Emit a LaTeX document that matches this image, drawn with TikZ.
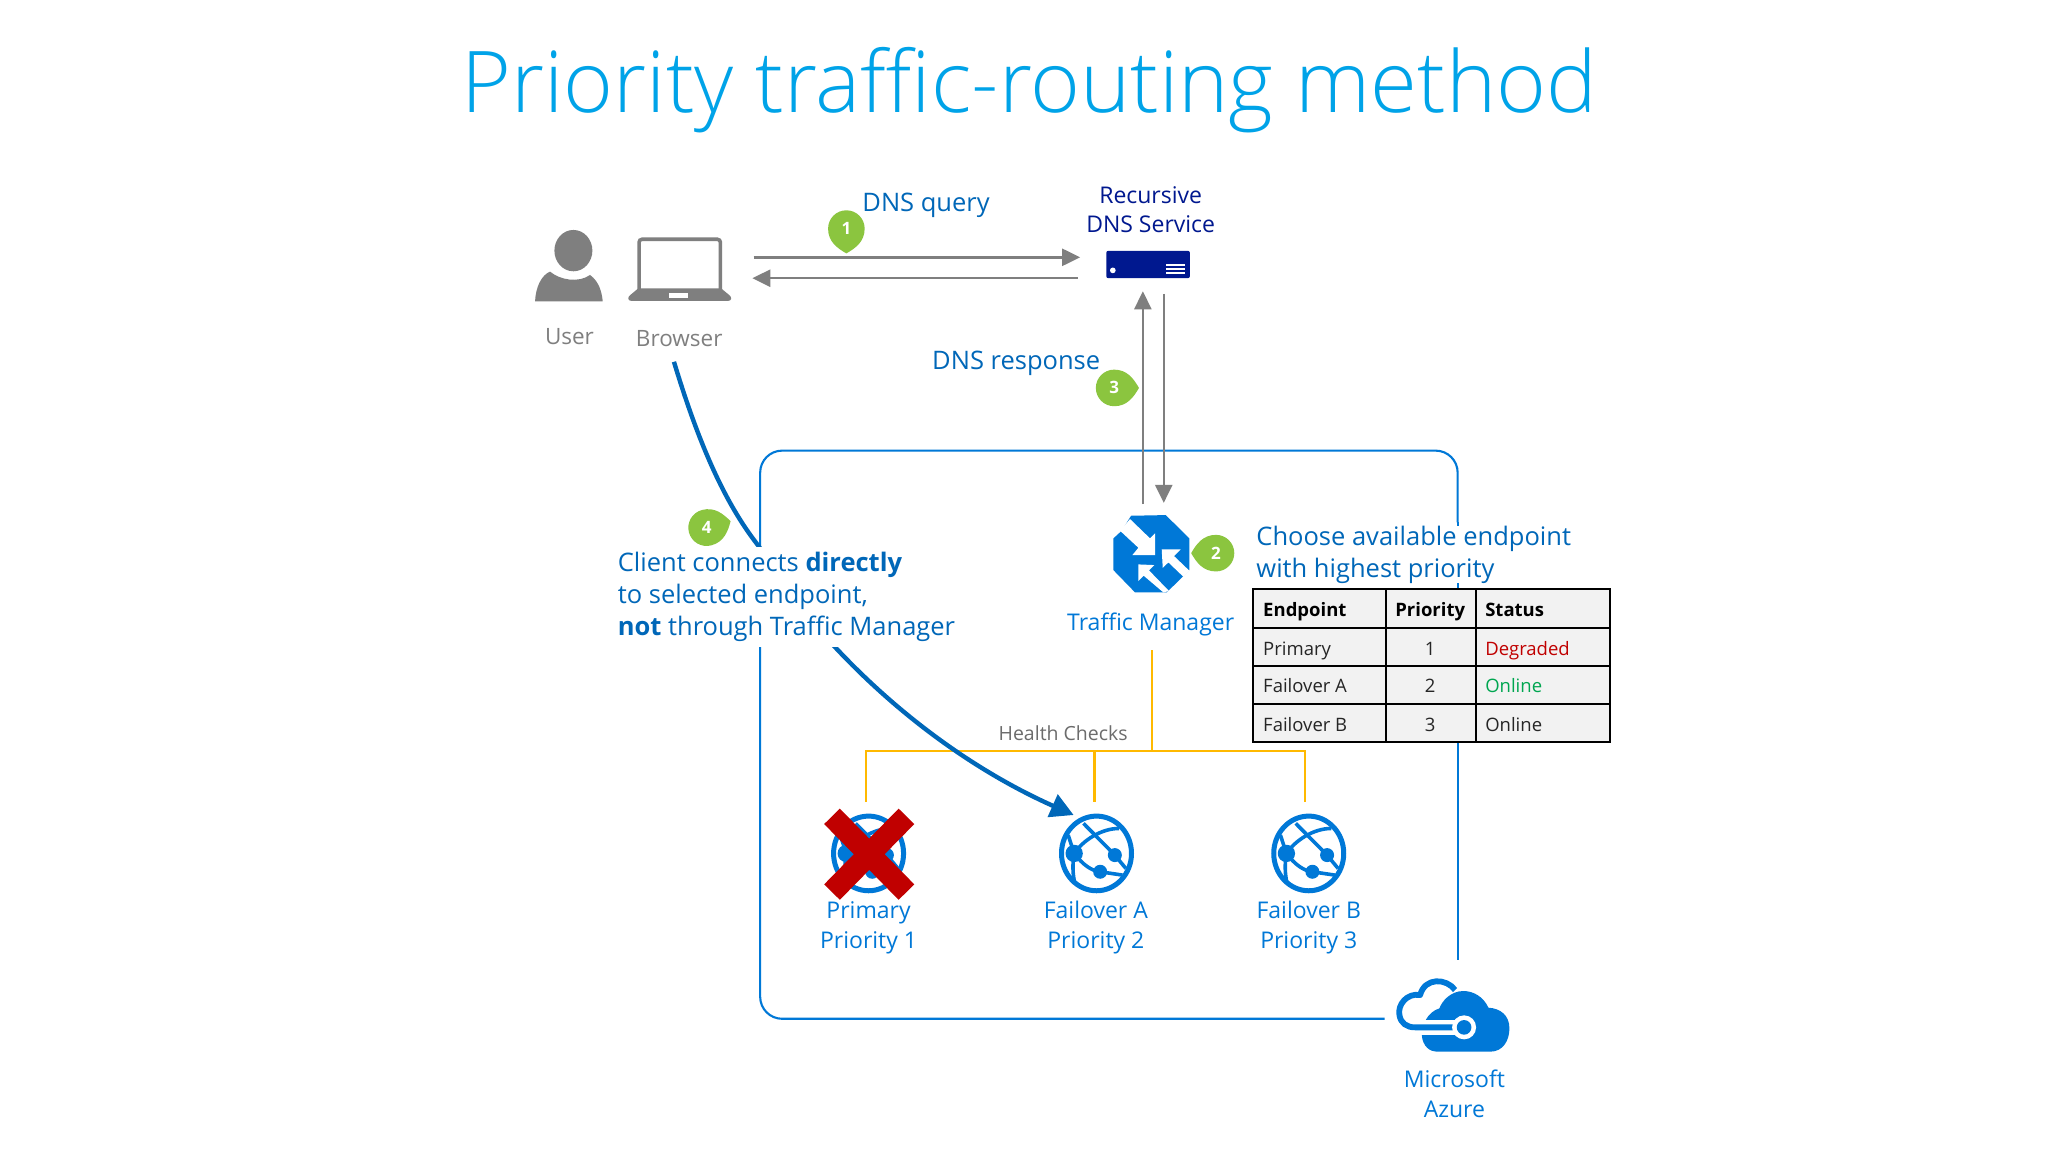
\documentclass[tikz,border=0pt]{standalone}
\usepackage{fontspec}
\setmainfont{Open Sans}
\newfontfamily\titlefont{Open Sans Light}
\usetikzlibrary{arrows.meta,calc}
\definecolor{ttl}{HTML}{00A3E8}
\definecolor{azb}{HTML}{0078D7}
\definecolor{dkb}{HTML}{0067B8}
\definecolor{navy}{HTML}{00188F}
\definecolor{gry}{HTML}{7F7F7F}
\definecolor{pingreen}{HTML}{8BC53F}
\definecolor{yel}{HTML}{FFB900}
\definecolor{redx}{HTML}{C00000}
\definecolor{grn}{HTML}{00A650}
\definecolor{cellg}{HTML}{F2F2F2}
\tikzset{
  blbl/.style={inner sep=0pt,text=azb,align=center,font=\fontsize{23}{30}\selectfont},
  dlbl/.style={inner sep=0pt,text=dkb,font=\fontsize{25.5}{32}\selectfont,align=left},
  glbl/.style={inner sep=0pt,text=gry,font=\fontsize{22.5}{28}\selectfont},
  nlbl/.style={inner sep=0pt,text=navy,align=center,font=\fontsize{23}{29}\selectfont},
  cell/.style={inner sep=0pt,text=black!85,text height=18pt,text depth=4pt,font=\fontsize{18.5}{22}\selectfont},
  hcell/.style={inner sep=0pt,text=black,text height=18pt,text depth=4pt,font=\fontsize{18.5}{22}\selectfont\bfseries},
  grayarrow/.style={draw=gry,line width=2.4pt,-{Triangle[length=18pt,width=17pt]}},
  yline/.style={draw=yel,line width=2.4pt},
  boxline/.style={draw=azb,line width=2.1pt},
  pics/pin/.style 2 args={code={
    \fill[pingreen,rotate=#1] (19,0) .. controls (15,7) and (10,14) .. (0,14) arc[start angle=90,end angle=270,radius=14] .. controls (10,-14) and (15,-7) .. (19,0) -- cycle;
    \node[inner sep=0pt,text=white,font=\fontsize{17}{20}\selectfont\bfseries] at (0,0) {#2};
  }},
  pics/globe/.style={code={
    \begin{scope}[scale=0.2552,azb,line width=3.6pt]
      \draw[line width=5pt] (0,0) ellipse[x radius=105,y radius=112];
      \draw (-39,-90) -- (55,5) -- (88,45);
      \draw (68,-75) .. controls (15,-75) and (-40,-40) .. (-67,0) .. controls (-72,30) and (-72,60) .. (-65,90);
      \draw (-85,-55) -- (-67,0);
      \draw (-67,0) .. controls (-40,35) and (-15,52) .. (11,55) -- (78,65);
      \fill (-67,0) circle[radius=26];
      \fill (55,5) circle[radius=21];
      \fill (11,55) circle[radius=21];
    \end{scope}
  }}
}
\begin{document}
\begin{tikzpicture}[x=1.30612pt,y=-1.30612pt]
\useasboundingbox[fill=white] (0,0) rectangle (1568,882);
% frame
\draw[boxline,rounded corners=22pt] (1116,400) -- (1116,345) -- (582,345) -- (582,780) -- (1060,780);
\draw[boxline] (1116,400) -- (1116,735);
% title
\node[inner sep=0pt,text=ttl,font=\fontsize{85.2}{90}\selectfont\titlefont] (title) at (788,69) {Priority traffic-routing method};
% user
\node[glbl] (user) at (436,258) {User};
\node[glbl] (browser) at (520,259) {Browser};
\begin{scope}[shift={(402,168.4)},scale=0.2552]
\fill[gry] (145,92) ellipse[x radius=57,y radius=62];
\fill[gry] (30,244) .. controls (32,200) and (50,165) .. (75,155) .. controls (105,180) and (160,190) .. (195,165) .. controls (222,185) and (230,215) .. (233,244) -- cycle;
\draw[gry,line width=3.6pt,rounded corners=3pt] (342,210) -- (342,58) -- (586,58) -- (586,210);
\fill[gry] (340,205) -- (588,205) -- (612,225) .. controls (622,232) and (620,243) .. (608,243) -- (320,243) .. controls (308,243) and (306,232) .. (316,225) -- cycle;
\fill[white] (433,220) rectangle (488,235);
\end{scope}
% server
\node[fill=navy,rounded corners=2pt,minimum width=83.6pt,minimum height=27.4pt,inner sep=0pt] (server) at (879,202.5) {};
\fill[white] (852,207) circle[radius=2.2];
\draw[white,line width=1.4pt] (893,203) -- (907,203) (893,206) -- (907,206) (893,209) -- (907,209);
\node[nlbl] (rec) at (881,160.5) {Recursive\\DNS Service};
% coordinates for connectors
\coordinate (qs) at (577,197);
\coordinate (qe) at (827,197);
\coordinate (rs) at (825,213);
\coordinate (re) at (576,213);
\coordinate (us) at (875,386);
\coordinate (ue) at (875,223);
\coordinate (ds) at (891,225);
\coordinate (de) at (891,385);
\draw[grayarrow] (qs) -- (qe);
\draw[grayarrow] (rs) -- (re);
\draw[grayarrow] (us) -- (ue);
\draw[grayarrow] (ds) -- (de);
\node[dlbl] (dq) at (709,157) {DNS query};
\node[dlbl] (dr) at (778,278) {DNS response};
% yellow
\coordinate (ys) at (882,498);
\coordinate (yj) at (882,575);
\coordinate (ya) at (663,575);
\coordinate (yb) at (838,575);
\coordinate (yc) at (999,575);
\coordinate (ea) at (663,614);
\coordinate (eb) at (838,614);
\coordinate (ec) at (999,614);
\draw[yline] (ys) -- (yj);
\draw[yline] (ea) -- (ya) -- (yc) -- (ec);
\draw[yline] (yb) -- (eb);
\node[inner sep=0pt,text=gry!85!black,font=\fontsize{19.5}{25}\selectfont] (hc) at (814,561) {Health Checks};
% client connector
\coordinate (cs) at (516,277);
\coordinate (ce) at (822,624);
\draw[draw=dkb,line width=4.4pt,-{Triangle[length=23pt,width=24pt]}] (cs) .. controls (535,340) and (555,385) .. (580,417) .. controls (600,445) and (618,472) .. (638,494) .. controls (690,550) and (750,592) .. (ce);
\node[dlbl,fill=white,anchor=west,outer sep=0pt,inner xsep=4pt,inner ysep=5pt] (client) at (470,457) {Client connects \textbf{directly}\\to selected endpoint,\\\textbf{not} through Traffic Manager};
% pins
\pic (p1) at (648,175) {pin={-90}{1}};
\pic (p3) at (853,297) {pin={0}{3}};
\pic (p4) at (541,404) {pin={15}{4}};
\pic (p2) at (931,423.5) {pin={180}{2}};
% traffic manager
\begin{scope}[shift={(838.4,386.7)},scale=0.2552]
\fill[azb] (108,32) -- (212,30) -- (283,100) -- (283,195) -- (215,262) -- (120,262) -- (55,195) -- (55,100) -- (80,77) -- cycle;
\fill[white] (75,77) -- (105,42) -- (165,100) -- (180,85) -- (180,150) -- (112,150) -- (130,128) -- cycle;
\fill[white] (200,133) -- (257,133) -- (237,153) -- (283,197) -- (265,215) -- (220,172) -- (203,188) -- cycle;
\fill[white] (130,178) -- (178,180) -- (162,196) -- (222,258) -- (205,262) -- (146,212) -- (130,228) -- cycle;
\end{scope}
\node[blbl] (tm) at (881,478) {Traffic Manager};
\node[dlbl,fill=white,anchor=west,inner xsep=3pt,inner ysep=0pt] (choose) at (959.5,424.5) {Choose available endpoint\\with highest priority};
% table
\fill[cellg] (959,451) rectangle (1233,568);
\draw[black,line width=2pt] (959,451) rectangle (1233,568);
\draw[black,line width=1.8pt] (959,481) -- (1233,481) (959,510) -- (1233,510) (959,539) -- (1233,539) (1061,451) -- (1061,568) (1130,451) -- (1130,568);
\node[hcell,anchor=west] (t00) at (967,466.5) {Endpoint};
\node[hcell] (t01) at (1095,466.5) {Priority};
\node[hcell,anchor=west] (t02) at (1137,466.5) {Status};
\node[cell,anchor=west] (t10) at (967,496.5) {Primary};
\node[cell] (t11) at (1095,496.5) {1};
\node[cell,anchor=west,text=redx] (t12) at (1137,496.5) {Degraded};
\node[cell,anchor=west] (t20) at (967,525) {Failover A};
\node[cell] (t21) at (1095,525) {2};
\node[cell,anchor=west,text=grn] (t22) at (1137,525) {Online};
\node[cell,anchor=west] (t30) at (967,554.5) {Failover B};
\node[cell] (t31) at (1095,554.5) {3};
\node[cell,anchor=west] (t32) at (1137,554.5) {Online};
% endpoints
\pic (g1) at (665,653.4) {globe};
\pic (g2) at (839.5,653.4) {globe};
\pic (g3) at (1002,653.4) {globe};
\draw[redx,line width=22pt] (637,625) -- (694,683) (694,625) -- (637,683);
\node[blbl] (l1) at (665,710) {Primary\\Priority 1};
\node[blbl] (l2) at (839,710) {Failover A\\Priority 2};
\node[blbl] (l3) at (1002,710) {Failover B\\Priority 3};
% azure
\fill[white] (1060,735) rectangle (1160,810);
\begin{scope}[shift={(1026,719.7)},scale=0.2552]
\fill[azb] (245,285) .. controls (248,320) and (270,335) .. (290,335) -- (450,335) .. controls (490,335) and (508,300) .. (508,265) .. controls (508,225) and (480,205) .. (445,203) .. controls (430,170) and (400,153) .. (370,153) .. controls (330,153) and (305,185) .. (298,205) .. controls (280,210) and (265,225) .. (258,238) -- cycle;
\draw[white,line width=14.5pt] (225,262) -- (372,262);
\draw[azb,line width=5.8pt,line join=round] (345,150) .. controls (320,115) and (255,110) .. (240,165) .. controls (200,158) and (172,195) .. (178,225) .. controls (182,250) and (200,262) .. (225,262) -- (372,262);
\fill[white] (372,262) circle[radius=36];
\fill[azb] (372,262) circle[radius=22];
\end{scope}
\node[blbl] (az) at (1113.5,837.5) {Microsoft\\Azure};
\end{tikzpicture}
\end{document}
